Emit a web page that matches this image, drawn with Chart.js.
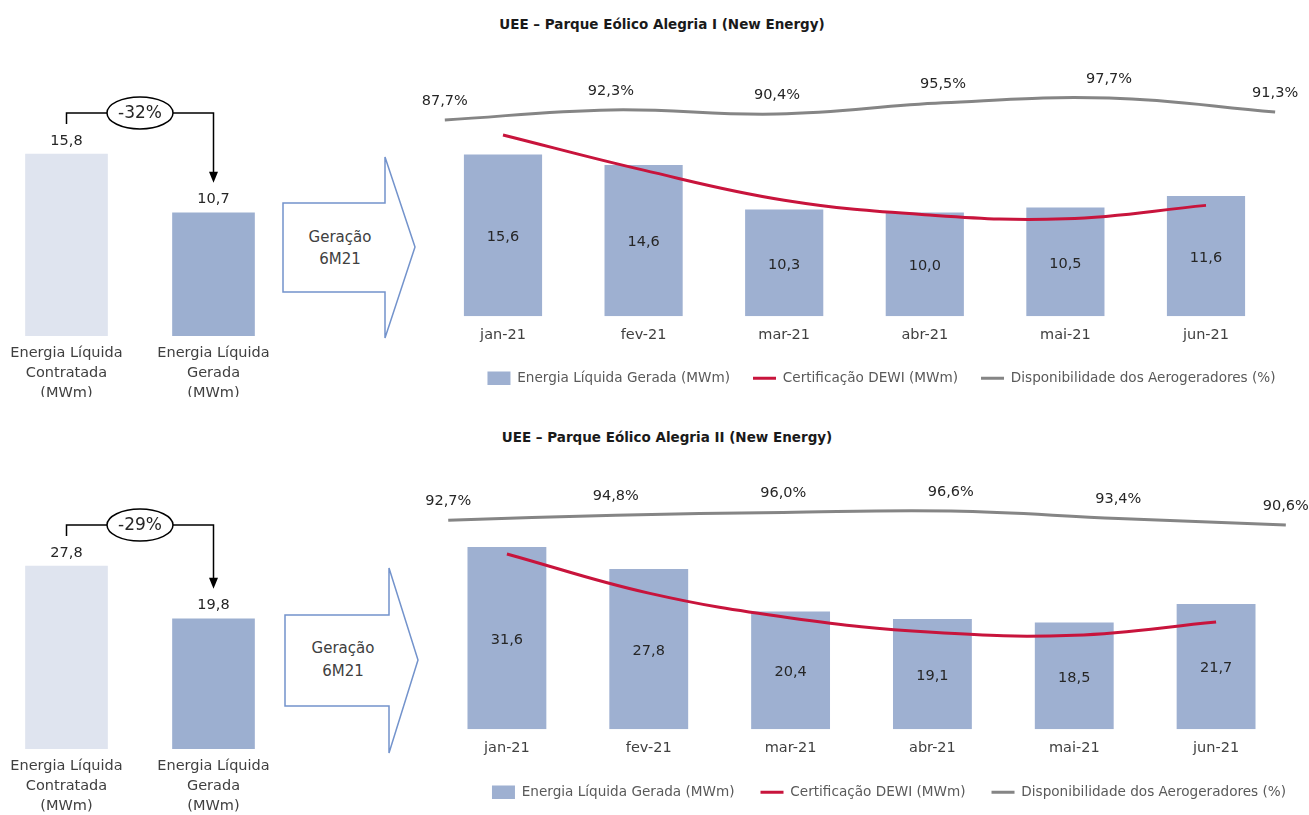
<!DOCTYPE html>
<html><head><meta charset="utf-8">
<script src="https://cdn.jsdelivr.net/npm/chart.js@4"></script>
<style>
html,body{margin:0;padding:0;background:#fff;overflow:hidden;width:1309px;height:815px;position:relative;font-family:"DejaVu Sans";}
canvas{position:absolute;}
.title{position:absolute;font-weight:bold;font-size:13.5px;line-height:18px;color:#1a1a1a;text-align:center;white-space:nowrap;width:500px;}
svg{position:absolute;left:0;top:0;}
</style></head><body>
<div class="title" style="left:412px;top:15px;">UEE – Parque Eólico Alegria I (New Energy)</div>
<div class="title" style="left:417px;top:428px;">UEE – Parque Eólico Alegria II (New Energy)</div>
<svg width="1309" height="815">
  <path d="M385,203 L283,203 L283,292 L385,292 L385,338 L415,247 L385,157 Z" fill="#fff" stroke="#7393cc" stroke-width="1.5"/>
  <text x="340" y="237" text-anchor="middle" dominant-baseline="central" font-family="DejaVu Sans" font-size="15" fill="#404040">Geração</text>
  <text x="340" y="259" text-anchor="middle" dominant-baseline="central" font-family="DejaVu Sans" font-size="15" fill="#404040">6M21</text>
  <path d="M389,615 L285,615 L285,706 L389,706 L389,753 L418,660 L389,568 Z" fill="#fff" stroke="#7393cc" stroke-width="1.5"/>
  <text x="343" y="648" text-anchor="middle" dominant-baseline="central" font-family="DejaVu Sans" font-size="15" fill="#404040">Geração</text>
  <text x="343" y="671" text-anchor="middle" dominant-baseline="central" font-family="DejaVu Sans" font-size="15" fill="#404040">6M21</text>
</svg>
<canvas id="l1" width="294" height="317" style="left:-7px;top:80px"></canvas>
<canvas id="m1" width="889" height="340" style="left:420px;top:55px"></canvas>
<canvas id="l2" width="294" height="325" style="left:-7px;top:490px"></canvas>
<canvas id="m2" width="889" height="344" style="left:420px;top:465px"></canvas>
<script>
// ---- data ----
const meses = ['jan-21','fev-21','mar-21','abr-21','mai-21','jun-21'];
const resumoLabels = [['Energia Líquida','Contratada','(MWm)'],['Energia Líquida','Gerada','(MWm)']];
const serieNomes = ['Energia Líquida Gerada (MWm)','Certificação DEWI (MWm)','Disponibilidade dos Aerogeradores (%)'];
// Alegria I
const resumoI = [15.8, 10.7];
const variacaoI = '-32%';
const geradaI = [15.6, 14.6, 10.3, 10.0, 10.5, 11.6];
const dewiI = [17.5, 14.1, 11.2, 9.8, 9.4, 10.7];
const dispI = [87.7, 92.3, 90.4, 95.5, 97.7, 91.3];
// Alegria II
const resumoII = [27.8, 19.8];
const variacaoII = '-29%';
const geradaII = [31.6, 27.8, 20.4, 19.1, 18.5, 21.7];
const dewiII = [30.4, 23.6, 19.3, 16.8, 16.3, 18.6];
const dispII = [92.7, 94.8, 96.0, 96.6, 93.4, 90.6];

const FONT = 'DejaVu Sans';
Chart.defaults.font.family = FONT;
Chart.defaults.color = '#404040';
const fmt = v => v.toFixed(1).replace('.', ',');

const bracketPlugin = {
  id: 'bracket',
  afterDatasetsDraw(chart, args, opts) {
    const meta = chart.getDatasetMeta(0);
    const b0 = meta.data[0], b1 = meta.data[1];
    const vals = chart.data.datasets[0].data;
    const ctx = chart.ctx;
    ctx.save();
    ctx.font = '14.5px "' + FONT + '"';
    ctx.fillStyle = '#262626';
    ctx.textAlign = 'center';
    ctx.textBaseline = 'middle';
    meta.data.forEach((b, i) => ctx.fillText(fmt(vals[i]), b.x, b.y - 13));
    const yh = b0.y - 41;
    ctx.strokeStyle = '#000';
    ctx.lineWidth = 1.5;
    ctx.beginPath();
    ctx.moveTo(b0.x, b0.y - 30);
    ctx.lineTo(b0.x, yh);
    ctx.lineTo(b1.x, yh);
    ctx.lineTo(b1.x, b1.y - 40);
    ctx.stroke();
    ctx.fillStyle = '#000';
    ctx.beginPath();
    ctx.moveTo(b1.x - 4.5, b1.y - 41);
    ctx.lineTo(b1.x + 4.5, b1.y - 41);
    ctx.lineTo(b1.x, b1.y - 30);
    ctx.closePath();
    ctx.fill();
    const cx = (b0.x + b1.x) / 2;
    ctx.beginPath();
    ctx.ellipse(cx, yh, 33, 16, 0, 0, Math.PI * 2);
    ctx.fillStyle = '#fff';
    ctx.fill();
    ctx.stroke();
    ctx.fillStyle = '#262626';
    ctx.font = '17px "' + FONT + '"';
    ctx.fillText(opts.text, cx, yh + 1);
    ctx.restore();
  }
};

const valuePlugin = {
  id: 'valueLabels',
  afterLayout(chart, args, opts) {
    const l = chart.legend;
    if (l && opts.shift) { l.left += opts.shift; l.right += opts.shift; }
  },
  afterDatasetsDraw(chart) {
    const ctx = chart.ctx;
    ctx.save();
    ctx.font = '14.5px "' + FONT + '"';
    ctx.fillStyle = '#262626';
    ctx.textAlign = 'center';
    ctx.textBaseline = 'middle';
    const m0 = chart.getDatasetMeta(0);
    const d0 = chart.data.datasets[0].data;
    m0.data.forEach((bar, i) => ctx.fillText(fmt(d0[i]), bar.x, (bar.y + bar.base) / 2 + 2));
    const m2 = chart.getDatasetMeta(2);
    const d2 = chart.data.datasets[2].data;
    m2.data.forEach((pt, i) => ctx.fillText(fmt(d2[i].y) + '%', pt.x, pt.y - 19));
    ctx.restore();
  }
};

function leftChart(id, values, variacao, yMax, xH) {
  new Chart(document.getElementById(id), {
    type: 'bar',
    data: { labels: resumoLabels, datasets: [{ data: values, backgroundColor: ['#dfe4ef', '#9cafd0'], barThickness: 82 }] },
    options: {
      responsive: false, animation: false, events: [],
      layout: { padding: 0 },
      plugins: { legend: { display: false }, tooltip: { enabled: false }, bracket: { text: variacao } },
      scales: {
        x: { grid: { display: false, drawTicks: false }, border: { display: false },
             ticks: { padding: 7.5, font: { size: 14.5, lineHeight: 1.38 }, color: '#404040', maxRotation: 0, autoSkip: false },
             afterFit: s => { s.height = xH; } },
        y: { display: false, min: 0, max: yMax }
      }
    },
    plugins: [bracketPlugin]
  });
}

function mainChart(id, gerada, dewi, disp, yMax, y2Min, y2Max, xH, padL, padR, legPad, shift) {
  new Chart(document.getElementById(id), {
    type: 'bar',
    data: {
      labels: meses,
      datasets: [
        { type: 'bar', label: serieNomes[0], data: gerada, backgroundColor: '#9eb0d1',
          grouped: false, categoryPercentage: 1, barPercentage: 0.556, order: 3 },
        { type: 'line', label: serieNomes[1], data: dewi, borderColor: '#c8143c', borderWidth: 3, tension: 0.4,
          pointRadius: 0, pointBorderWidth: 3, pointBorderColor: '#c8143c', fill: false, order: 1 },
        { type: 'line', label: serieNomes[2], data: disp.map((v, i) => ({ x: i, y: v })), xAxisID: 'x2', yAxisID: 'y2',
          borderColor: '#858585', borderWidth: 3, tension: 0.4, pointRadius: 0, pointBorderWidth: 3, pointBorderColor: '#858585', fill: false, order: 2 }
      ]
    },
    options: {
      responsive: false, animation: false, events: [],
      layout: { padding: { left: padL, right: padR, top: 15, bottom: 0 } },
      plugins: {
        tooltip: { enabled: false },
        valueLabels: { shift },
        legend: {
          position: 'bottom', align: 'center',
          labels: {
            usePointStyle: true, pointStyleWidth: 23, boxHeight: 14, padding: legPad,
            font: { size: 13.6 }, color: '#595959',
            generateLabels(chart) {
              const items = Chart.defaults.plugins.legend.labels.generateLabels(chart);
              items.sort((a, b) => a.datasetIndex - b.datasetIndex);
              items.forEach(it => {
                const ds = chart.data.datasets[it.datasetIndex];
                it.text = ds.label;
                if (it.datasetIndex === 0) { it.pointStyle = 'rect'; it.fillStyle = ds.backgroundColor; it.strokeStyle = ds.backgroundColor; it.lineWidth = 0; }
                else { it.pointStyle = 'line'; it.strokeStyle = ds.borderColor; it.fillStyle = ds.borderColor; it.lineWidth = 3; }
              });
              return items;
            }
          }
        }
      },
      scales: {
        x: { grid: { display: false, drawTicks: false }, border: { display: false },
             ticks: { padding: 10, font: { size: 14.5 }, color: '#404040', maxRotation: 0, autoSkip: false },
             afterFit: s => { s.height = xH; } },
        x2: { type: 'linear', display: false, min: -0.073, max: 5.007, offset: false },
        y: { display: false, min: 0, max: yMax },
        y2: { display: false, min: y2Min, max: y2Max }
      }
    },
    plugins: [valuePlugin]
  });
}

leftChart('l1', resumoI, variacaoI, 22.22, 61);
leftChart('l2', resumoII, variacaoII, 39.36, 66);
mainChart('m1', geradaI, dewiI, dispI, 23.77, -1.39, 110.43, 32.2, 12.7, 32.7, 23, 27);
mainChart('m2', geradaII, dewiII, dispII, 43.23, 3.05, 109.91, 30.2, 16, 22, 26, 27.5);
</script>
</body></html>
